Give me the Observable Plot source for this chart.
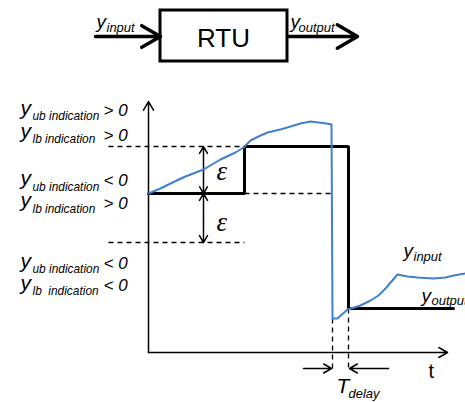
<!DOCTYPE html>
<html>
<head>
<meta charset="utf-8">
<script src="https://cdn.jsdelivr.net/npm/d3@7"></script>
<script src="https://cdn.jsdelivr.net/npm/@observablehq/plot@0.6"></script>
<style>
  html, body { margin: 0; padding: 0; background: #fff; }
</style>
</head>
<body>
<div id="chart"></div>
<script>
// Diagram coordinates (x to the right, y downward), 465 x 402 units
// Blue input signal
const inputX = [148,160,172,185,203,220,235,243,250,258,267,280,290,300,310,318,326,331,332,337,347,360,370,378,385,391,397,407,417,433,445,453,465];
const inputY = [193,188,182,176,169,159,152,147,140,136,132,129,126,123,121,122,123,124,318,318,309,305,300,295,288,281,274,276,277,278,277,275,273];
// Black output signal (step)
const outputX = [148,244,244,348,348,453];
const outputY = [193,193,146,146,308,308];
// Dashed reference lines
const dashX1 = [108,108,244,332,348];
const dashX2 = [244,244,332,332,348];
const dashY1 = [146,242,193,318,308];
const dashY2 = [146,242,193,368,368];
// Arrows: axes, block in/out, epsilon, T_delay
const arrowX1 = [148,148, 95,287, 203,203,203,203, 303,388];
const arrowY1 = [352,352, 36, 36, 170,170,217,217, 368,368];
const arrowX2 = [148,447,160,357, 203,203,203,203, 331,349];
const arrowY2 = [101,352, 36, 36, 146,193,193,242, 368,368];
const arrowW  = [1.5,1.5,3.5,3.5, 1.5,1.5,1.5,1.5, 1.5,1.5];
const arrowH  = [10,10,15,15, 8,8,8,8, 9,9];
// Block
const boxX = [160, 287];
const boxY = [10, 61];
// Texts
const mainText = ["y","y","y","y","y","y","y","y","y","y"];
const mainX = [20,20,20,20,20,20, 96,290, 403,421];
const mainY = [114,137,184,206,267,289, 27,27, 256,301];
const subText = ["ub indication","lb indication","ub indication","lb indication","ub indication","lb\u00a0 indication","input","output","input","output"];
const subX = [32,32,32,32,32,32, 106,298, 413,431];
const subY = [119,142,190,212,272,294, 31,31, 260,304];
const relText = ["> 0","> 0","< 0","> 0","< 0","< 0"];
const relX = [103,103,103,103,103,103];
const relY = [115,140,185,208,268,290];
const epsText = ["ε","ε"];
const epsX = [216,216];
const epsY = [179,230];

const inputData = inputX.map((x, i) => ({x, y: inputY[i]}));
const outputData = outputX.map((x, i) => ({x, y: outputY[i]}));
const dashData = dashX1.map((x1, i) => ({x1, x2: dashX2[i], y1: dashY1[i], y2: dashY2[i]}));
const arrowData = arrowX1.map((x1, i) => ({x1, y1: arrowY1[i], x2: arrowX2[i], y2: arrowY2[i], w: arrowW[i], h: arrowH[i]}));
const mains = mainText.map((t, i) => ({t, x: mainX[i], y: mainY[i], fs: i < 6 ? 21 : 19}));
const subs = subText.map((t, i) => ({t, x: subX[i], y: subY[i], fs: i < 6 ? 11.9 : 13}));
const rels = relText.map((t, i) => ({t, x: relX[i], y: relY[i]}));
const eps = epsText.map((t, i) => ({t, x: epsX[i], y: epsY[i]}));

const sans = "'Liberation Sans', Arial, sans-serif";

const arrowMarks = arrowData.map(d => Plot.arrow([d], {
  x1: "x1", y1: "y1", x2: "x2", y2: "y2",
  stroke: "black", strokeWidth: d.w, headLength: d.h, headAngle: 60
}));

const textMark = (data, fs, opts = {}) => Plot.text(data, {
  x: "x", y: "y", text: "t", fontSize: fs, fontFamily: sans, fontStyle: "italic",
  textAnchor: "start", lineAnchor: "bottom", fill: "black", ...opts
});

const chart = Plot.plot({
  width: 465, height: 402, margin: 0,
  x: {domain: [0, 465], range: [0, 465], axis: null},
  y: {domain: [0, 402], range: [0, 402], axis: null},
  style: {background: "white"},
  marks: [
    Plot.link(dashData, {x1: "x1", x2: "x2", y1: "y1", y2: "y2", stroke: "black", strokeWidth: 1.3, strokeDasharray: "5,4"}),
    Plot.rect([{x1: boxX[0], x2: boxX[1], y1: boxY[0], y2: boxY[1]}], {x1: "x1", x2: "x2", y1: "y1", y2: "y2", fill: "none", stroke: "black", strokeWidth: 3}),
    ...arrowMarks,
    Plot.line(outputData, {x: "x", y: "y", stroke: "black", strokeWidth: 3, strokeLinejoin: "miter"}),
    Plot.line(inputData, {x: "x", y: "y", stroke: "#4080cc", strokeWidth: 2}),
    textMark([{t: "RTU", x: 223, y: 46}], 26, {fontStyle: "normal", textAnchor: "middle"}),
    textMark([{t: "t", x: 428, y: 377}], 20, {fontStyle: "normal"}),
    textMark([{t: "T", x: 336, y: 392}], 21),
    textMark([{t: "delay", x: 348, y: 397}], 13),
    ...mains.map(d => textMark([d], d.fs)),
    ...subs.map(d => textMark([d], d.fs)),
    textMark(rels, 17),
    textMark(eps, 27, {fontFamily: "'Liberation Serif', serif"})
  ]
});
document.getElementById("chart").appendChild(chart);
</script>
</body>
</html>
